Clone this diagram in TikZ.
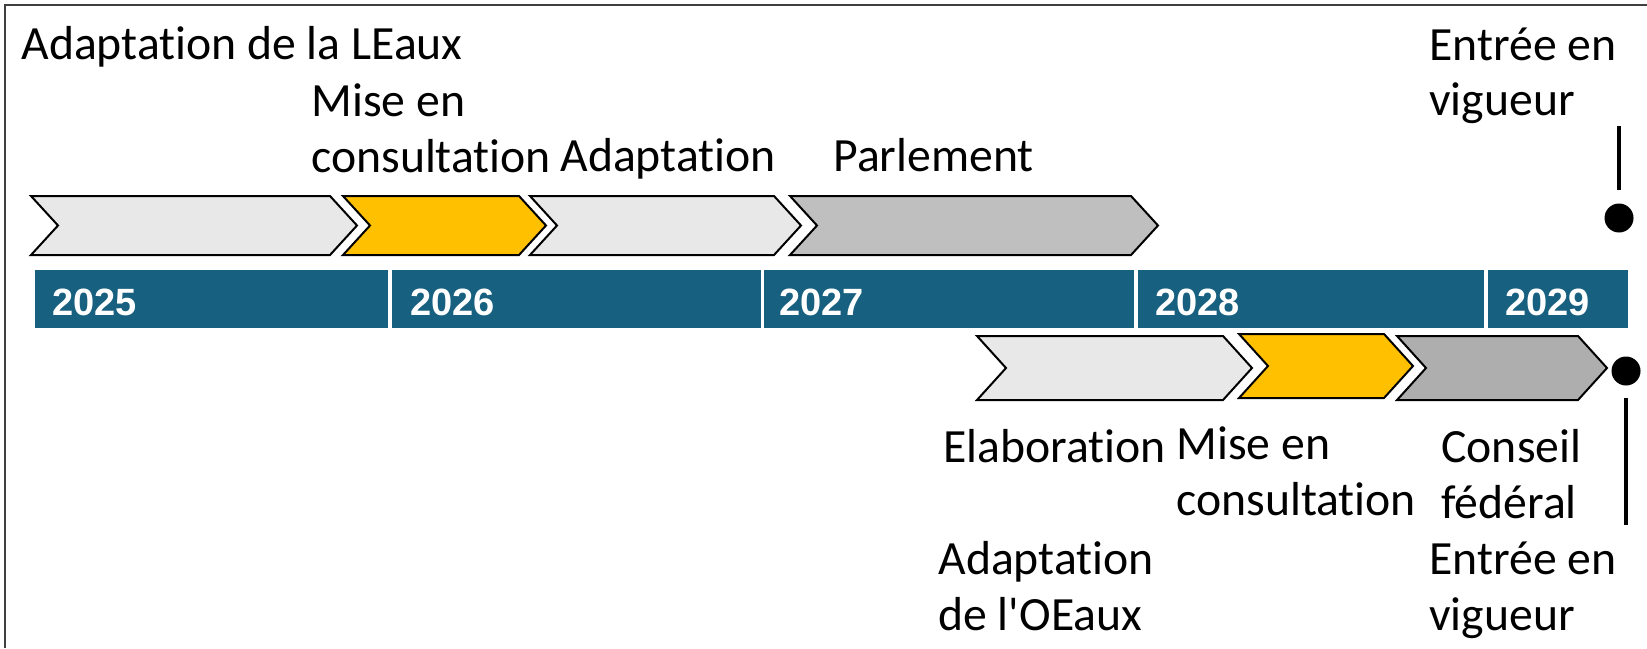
\documentclass[tikz,border=0pt]{standalone}
\usepackage{fontspec}
\setmainfont{Carlito}[Ligatures={NoCommon,TeXOff},Contextuals=NoAlternate]
\newfontfamily\yearfont{Liberation Sans}
\usetikzlibrary{calc}
\definecolor{barblue}{RGB}{24,96,128}
\definecolor{lgray}{RGB}{232,232,232}
\definecolor{gold}{RGB}{255,192,0}
\definecolor{mgray}{RGB}{191,191,191}
\definecolor{dgray}{RGB}{174,174,174}
\newcommand\ml[1]{\begin{tabular}[t]{@{}l@{}}#1\end{tabular}}
% chevron: xl, xtip, ytop, ybot, depth, fill
\newcommand\chevshape[6]{%
  \path[chevhalo] (#1,#3) -- (#2-#5,#3) -- (#2,{(#3+#4)/2}) -- (#2-#5,#4) -- (#1,#4) -- (#1+#5,{(#3+#4)/2}) -- cycle;
  \path[chevline,fill=#6] (#1,#3) -- (#2-#5,#3) -- (#2,{(#3+#4)/2}) -- (#2-#5,#4) -- (#1,#4) -- (#1+#5,{(#3+#4)/2}) -- cycle;
}
\tikzset{
  chevhalo/.style={draw=white,line width=4pt,line join=miter},
  chevline/.style={draw=black,line width=1pt,line join=miter},
  lbl/.style={anchor=base west,inner sep=0pt,font=\fontsize{23.85}{28}\selectfont},
  yr/.style={anchor=base west,inner sep=0pt,text=white,font=\yearfont\bfseries\fontsize{19}{22}\selectfont},
  cell/.style={fill=barblue},
  dotnode/.style={circle,fill=black,inner sep=0pt,minimum size=14.5pt},
  stem/.style={draw=black,line width=2.3pt},
  frame/.style={draw=black!75,line width=1.2pt}
}
\begin{document}
\begin{tikzpicture}[x=0.5pt,y=-0.5pt]
\useasboundingbox (0,0) rectangle (1647,648);
\draw[frame] (5,648) -- (5,5) -- (1647,5);

% top chevrons
\chevshape{31}{357}{196}{255}{27}{lgray}
\chevshape{343}{546}{196}{255}{27}{gold}
\chevshape{530}{801}{196}{255}{27}{lgray}
\chevshape{790}{1158}{196}{255}{27}{mgray}

% year bar
\path[cell] (34.7,270) rectangle (387.6,328);
\path[cell] (391.8,270) rectangle (760.5,328);
\path[cell] (763.6,270) rectangle (1134.4,328);
\path[cell] (1137.6,270) rectangle (1484.2,328);
\path[cell] (1488.4,270) rectangle (1628,328);
\node[yr] (y2025) at (52,315) {2025};
\node[yr] (y2026) at (410,315) {2026};
\node[yr] (y2027) at (779,315) {2027};
\node[yr] (y2028) at (1155,315) {2028};
\node[yr] (y2029) at (1505,315) {2029};

% bottom chevrons
\chevshape{977}{1252}{336}{400}{29}{lgray}
\chevshape{1239}{1413}{334}{398}{29}{gold}
\chevshape{1397}{1607}{336}{400}{29}{dgray}

% top labels
\node[lbl] (tLEaux) at (21,59) {Adaptation de la LEaux};
\node[lbl] (tMise) at (311,116) {\ml{Mise en\\consultation}};
\node[lbl] (tAdapt) at (560,171) {Adaptation};
\node[lbl] (tParl) at (833,171) {Parlement};
\node[lbl] (tEntree) at (1429,60) {\ml{Entrée en\\vigueur}};

% bottom labels
\node[lbl] (bElab) at (943,462) {Elaboration};
\node[lbl] (bMise) at (1176,459) {\ml{Mise en\\consultation}};
\node[lbl] (bCons) at (1441,462) {\ml{Conseil\\fédéral}};
\node[lbl] (bOEaux) at (938,574) {\ml{Adaptation\\de l'OEaux}};
\node[lbl] (bEntree) at (1429,574) {\ml{Entrée en\\vigueur}};

% milestones
\node[dotnode] (dTop) at (1619,218) {};
\coordinate (sTop) at (1619,126);
\draw[stem] (sTop) -- ($(dTop.north)+(0,-13)$);
\node[dotnode] (dBot) at (1626,371) {};
\coordinate (sBot) at (1626,525);
\draw[stem] ($(dBot.south)+(0,12)$) -- (sBot);
\end{tikzpicture}
\end{document}
